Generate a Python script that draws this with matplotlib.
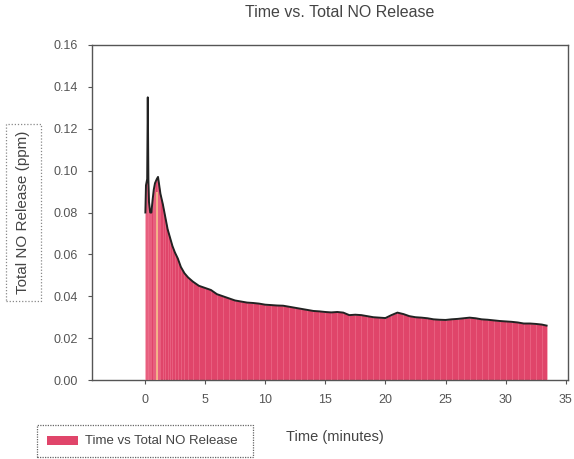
import numpy as np
import matplotlib.pyplot as plt
from matplotlib.patches import Rectangle

plt.rcParams['font.family'] = ['Liberation Sans', 'DejaVu Sans']

# Time (minutes) and total NO release (ppm)
times = [0.05, 0.1, 0.2, 0.25, 0.3, 0.35, 0.45, 0.55, 0.65, 0.75, 0.85, 1.0, 1.1, 1.2,
         1.3, 1.5, 1.7, 1.9, 2.1, 2.3, 2.5, 2.75, 3.0, 3.3, 3.6, 4.0, 4.5, 5.0, 5.5, 6.0,
         6.5, 7.0, 7.5, 8.0, 8.5, 9.0, 9.5, 10.0, 10.5, 11.0, 11.5, 12.0, 12.5, 13.0,
         13.5, 14.0, 14.5, 15.0, 15.5, 16.0, 16.5, 17.0, 17.5, 18.0, 18.5, 19.0, 19.5,
         20.0, 20.5, 21.0, 21.5, 22.0, 22.5, 23.0, 23.5, 24.0, 24.5, 25.0, 25.5, 26.0,
         26.5, 27.0, 27.5, 28.0, 28.5, 29.0, 29.5, 30.0, 30.5, 31.0, 31.5, 32.0, 32.5,
         33.0, 33.4]
no_release = [0.080, 0.093, 0.096, 0.135, 0.096, 0.085, 0.080, 0.080, 0.086, 0.091, 0.094,
              0.096, 0.097, 0.093, 0.089, 0.084, 0.078, 0.072, 0.068, 0.064, 0.061, 0.058,
              0.054, 0.051, 0.049, 0.047, 0.045, 0.044, 0.043, 0.041, 0.040, 0.039, 0.038,
              0.0375, 0.037, 0.0368, 0.0365, 0.036, 0.0358, 0.0356, 0.0355, 0.035, 0.0345,
              0.034, 0.0335, 0.033, 0.0328, 0.0325, 0.0323, 0.0325, 0.0322, 0.031, 0.0312,
              0.031, 0.0305, 0.030, 0.0298, 0.0296, 0.031, 0.0322, 0.0315, 0.0305, 0.030,
              0.0298, 0.0295, 0.029, 0.0288, 0.0287, 0.029, 0.0292, 0.0295, 0.0298, 0.0295,
              0.029, 0.0288, 0.0285, 0.0282, 0.028, 0.0278, 0.0275, 0.027, 0.027, 0.0268,
              0.0265, 0.026]

x_ticks = [0, 5, 10, 15, 20, 25, 30, 35]
y_ticks = [0.00, 0.02, 0.04, 0.06, 0.08, 0.10, 0.12, 0.14, 0.16]

t = np.array(times)
v = np.array(no_release)

fig = plt.figure(figsize=(5.74, 4.59), dpi=100)
ax = fig.add_axes([0.160, 0.172, 0.830, 0.730])

pink = '#e0456a'
ax.fill_between(t, 0, v, color=pink, lw=0, zorder=2)
# lighter vertical streaks in the fill
ax.vlines(t, 0, v, color='#f07a95', lw=0.6, alpha=0.6, zorder=3)
ax.vlines([1.0], 0, [0.090], color='#f8c58e', lw=1.2, zorder=3)
ax.plot(t, v, color='#222222', lw=1.4, zorder=4)

ax.set_xlim(-4.4, 35.2)
ax.set_ylim(0, 0.16)
ax.set_xticks(x_ticks)
ax.set_yticks(y_ticks)
ax.set_yticklabels([f'{y:.2f}' for y in y_ticks])
ax.tick_params(labelsize=9, colors='#555555', length=3, width=0.8, pad=7)

for s in ax.spines.values():
    s.set_linestyle((0, (1.5, 1)))
    s.set_color('#555555')
    s.set_linewidth(1.0)

ax.set_title('Time vs. Total NO Release', fontsize=11.5, color='#444444', pad=20, x=0.52)
fig.text(0.584, 0.048, 'Time (minutes)', fontsize=10.5, color='#444444', ha='center', va='center')

# y label inside a dotted box
fig.text(0.040, 0.538, 'Total NO Release (ppm)', fontsize=11, color='#444444',
         rotation=90, ha='center', va='center')
fig.patches.append(Rectangle((0.010, 0.345), 0.062, 0.385, transform=fig.transFigure,
                             fill=False, ls=(0, (1, 1.5)), ec='#888888', lw=0.9))

# legend box
fig.patches.append(Rectangle((0.065, 0.005), 0.376, 0.068, transform=fig.transFigure,
                             fill=False, ls=(0, (1, 1)), ec='#666666', lw=0.9))
fig.patches.append(Rectangle((0.082, 0.030), 0.054, 0.020, transform=fig.transFigure,
                             fc=pink, ec='none'))
fig.text(0.148, 0.040, 'Time vs Total NO Release', fontsize=9.5, color='#444444',
         ha='left', va='center')

fig.savefig('out.png', dpi=100)
